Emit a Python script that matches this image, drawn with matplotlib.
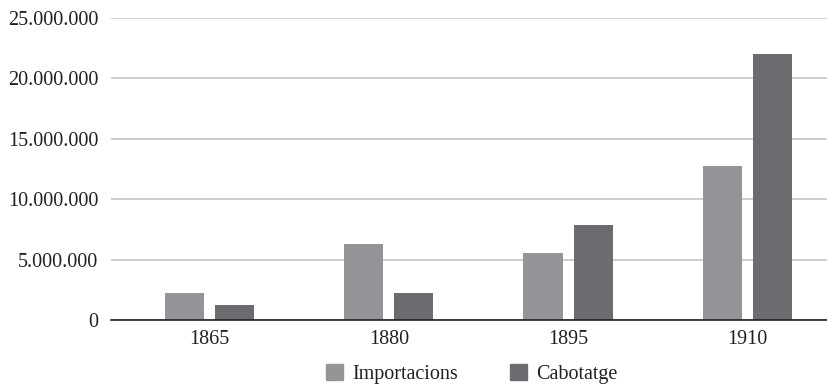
import numpy as np
import matplotlib
matplotlib.use("Agg")
import matplotlib.pyplot as plt
from matplotlib.ticker import FuncFormatter
from matplotlib.patches import Patch

years = ["1865", "1880", "1895", "1910"]
importacions = [2250000, 6300000, 5550000, 12750000]
cabotatge = [1250000, 2250000, 7850000, 22000000]

c_imp = "#939498"
c_cab = "#6b6c70"

plt.rcParams["font.family"] = ["Liberation Serif", "DejaVu Serif"]
plt.rcParams["font.size"] = 14.5

fig = plt.figure(figsize=(8.28, 3.88), dpi=100)
ax = fig.add_axes([0.134, 0.175, 0.866, 0.779])

x = np.arange(len(years))
w = 0.218
off = 0.14
ax.bar(x - off, importacions, w, color=c_imp, zorder=3)
ax.bar(x + off, cabotatge, w, color=c_cab, zorder=3)

ax.set_xlim(-0.55, len(years) - 0.55)
ax.set_ylim(0, 25000000)
ax.set_yticks(np.arange(0, 25000001, 5000000))
ax.yaxis.set_major_formatter(FuncFormatter(lambda v, p: f"{int(v):,}".replace(",", ".")))
ax.set_xticks(x)
ax.set_xticklabels(years)
ax.tick_params(length=0, pad=7, colors="#231f20")
ax.tick_params(axis="y", pad=9)
ax.grid(axis="y", color="#c6c6c8", linewidth=1.2, zorder=0)
for s in ["top", "right", "left"]:
    ax.spines[s].set_visible(False)
ax.spines["bottom"].set_color("#231f20")
ax.spines["bottom"].set_linewidth(1.2)
ax.spines["bottom"].set_zorder(4)

handles = [Patch(color=c_imp, label="Importacions"), Patch(color=c_cab, label="Cabotatge")]
fig.legend(handles=handles, loc="center", bbox_to_anchor=(0.57, 0.035), ncol=2,
           frameon=False, handlelength=0.85, handleheight=0.85, handletextpad=0.45,
           columnspacing=2.6, labelcolor="#231f20")

fig.savefig("out.png", dpi=100)
